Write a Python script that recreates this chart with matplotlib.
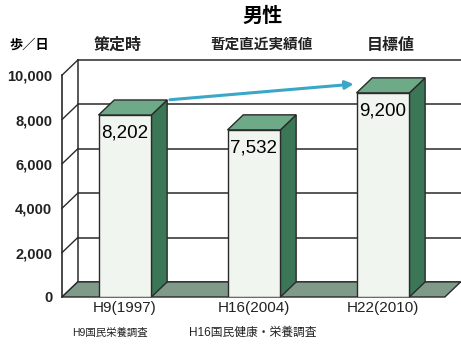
import matplotlib.pyplot as plt
from matplotlib.patches import Polygon
from matplotlib.transforms import blended_transform_factory

plt.rcParams['font.family'] = ['Liberation Sans', 'Noto Sans CJK JP']

# データ
years = ['H9(1997)', 'H16(2004)', 'H22(2010)']
steps = [8202, 7532, 9200]
headers = ['策定時', '暫定直近実績値', '目標値']
header_x = [-0.06, 1.06, 2.06]
surveys = ['H9国民栄養調査', 'H16国民健康・栄養調査']
survey_x = [-0.12, 0.99]
yticks = [0, 2000, 4000, 6000, 8000, 10000]

W, H = 461, 345
fig = plt.figure(figsize=(W / 100, H / 100), dpi=100)
ax = fig.add_axes([62 / W, 48 / H, 399 / W, 244 / H])
xmin, xmax = -0.488, 2.605
ax.set_xlim(xmin, xmax)
ax.set_ylim(0, 11000)

bw = 0.41      # 棒の幅
dx, dy = 0.122, 680   # 奥行き
edge = '#2a2a2a'

# 奥の壁と目盛線
ax.plot([xmin + dx, xmin + dx], [dy, 10000 + dy], color=edge, lw=1.1, clip_on=False)
for t in yticks:
    ax.plot([xmin, xmin + dx], [t, t + dy], color=edge, lw=1.0, clip_on=False)
    ax.plot([xmin + dx, xmax], [t + dy, t + dy], color=edge, lw=1.1, clip_on=False)

# 床
fx = 2.48
floor = Polygon([(xmin, 0), (fx, 0), (fx + dx, dy), (xmin + dx, dy)],
                facecolor='#7f9a89', edgecolor=edge, lw=1.0, clip_on=False, zorder=2)
ax.add_patch(floor)

# 3D風の棒
for i, v in enumerate(steps):
    l, r = i - bw / 2, i + bw / 2
    ax.add_patch(Polygon([(r, 0), (r + dx, dy), (r + dx, v + dy), (r, v)],
                         facecolor='#3b7757', edgecolor=edge, lw=1.0, zorder=3, clip_on=False))
    ax.add_patch(Polygon([(l, v), (r, v), (r + dx, v + dy), (l + dx, v + dy)],
                         facecolor='#6eaa88', edgecolor=edge, lw=1.0, zorder=3, clip_on=False))
    ax.bar(i, v, width=bw, color='#f1f5ef', edgecolor=edge, lw=1.0, zorder=4)
    ax.text(i, v - 800, f'{v:,}', ha='center', va='center', fontsize=13.5, zorder=5)

# 矢印
ax.annotate('', xy=(2 - bw / 2, steps[2] + 0.6 * dy), xytext=(bw / 2 + dx, steps[0] + dy),
            arrowprops=dict(arrowstyle='-|>', color='#3aa7c8', lw=2.2, mutation_scale=12),
            zorder=6, annotation_clip=False)

# 軸
for s in ['top', 'right', 'bottom']:
    ax.spines[s].set_visible(False)
ax.spines['left'].set_bounds(0, 10000)
ax.spines['left'].set_color(edge)
ax.spines['left'].set_linewidth(1.2)
ax.set_yticks(yticks)
ax.set_yticklabels([f'{t:,}' for t in yticks], fontsize=10.5, fontweight='bold', color='#222222')
ax.tick_params(axis='y', length=0, pad=7)
ax.set_xticks(range(len(years)))
ax.set_xticklabels(years, fontsize=11, color='#222222')
ax.tick_params(axis='x', length=0, pad=3)

trans = blended_transform_factory(ax.transData, fig.transFigure)
for x, h in zip(header_x, headers):
    fs = 10.5 if len(h) > 3 else 11.5
    ax.text(x, 1 - 45 / H, h, transform=trans, ha='center', va='center',
            fontsize=fs, fontweight='bold', color='#222222')
for x, s, fs in zip(survey_x, surveys, [7.5, 8.5]):
    ax.text(x, 1 - 333 / H, s, transform=trans, ha='center', va='center',
            fontsize=fs, color='#222222')

fig.text(263 / W, 1 - 16 / H, '男性', ha='center', va='center', fontsize=14.5, fontweight='bold')
fig.text(29 / W, 1 - 45 / H, '歩／日', ha='center', va='center', fontsize=9.5, fontweight='bold')

fig.savefig('out.png', dpi=100)
